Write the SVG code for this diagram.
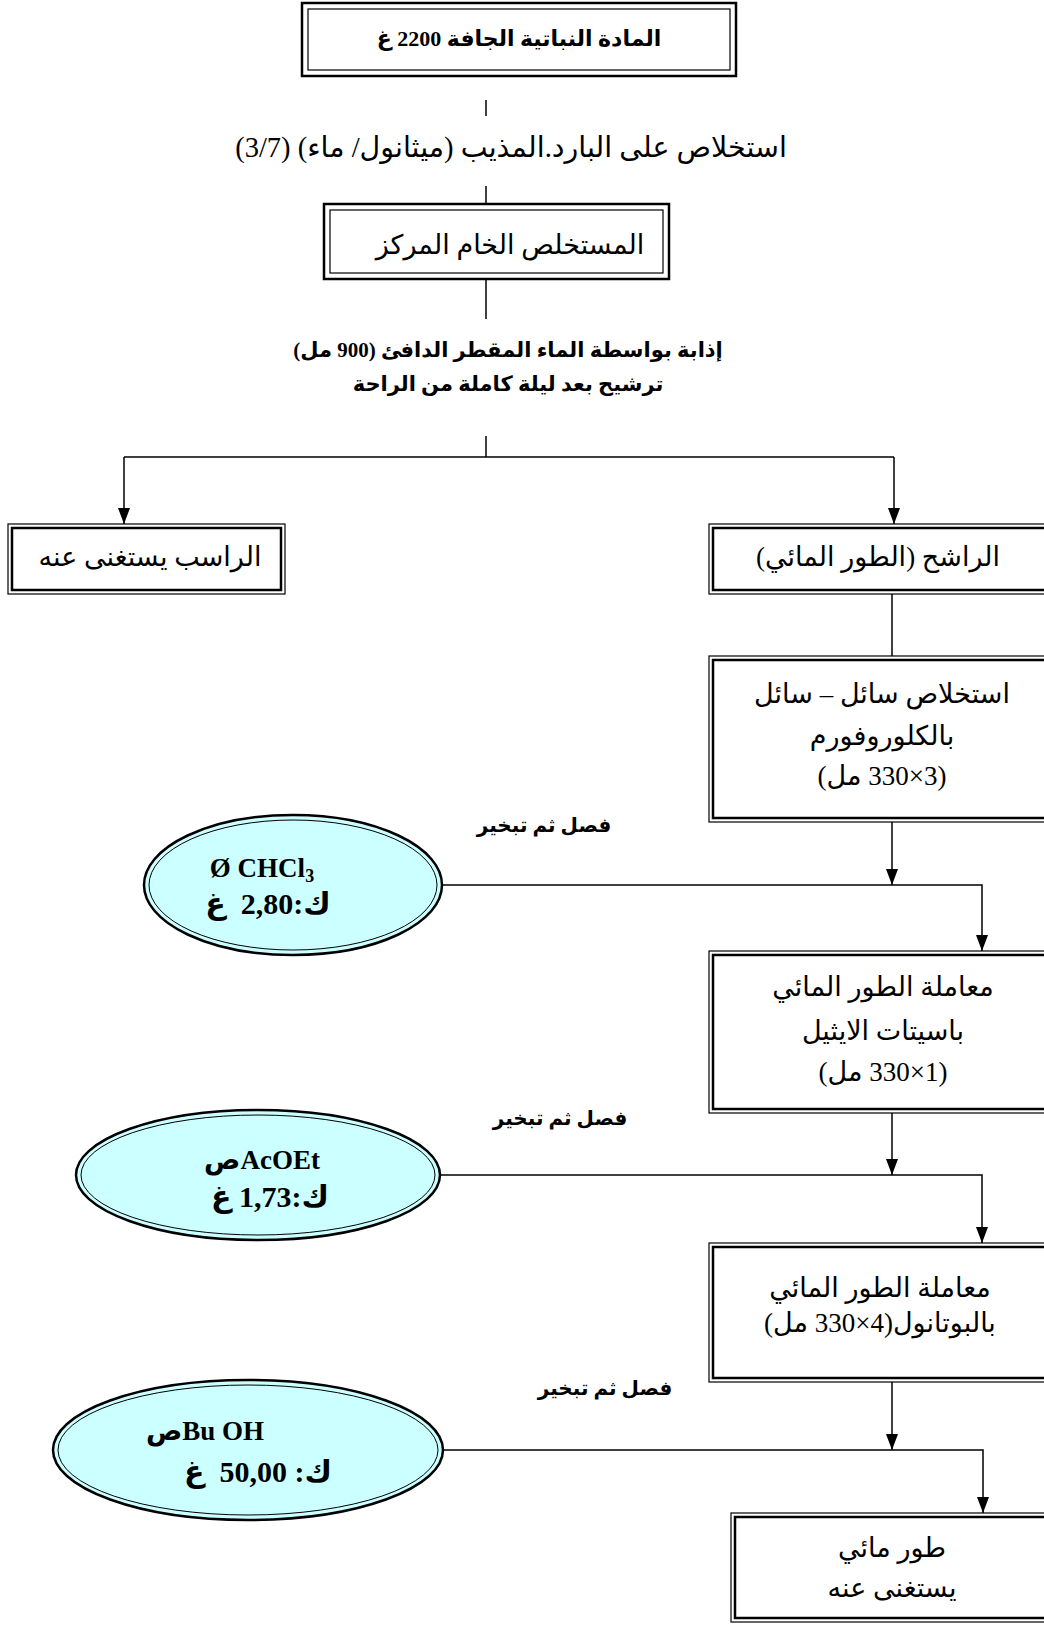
<svg xmlns="http://www.w3.org/2000/svg" width="1044" height="1625" viewBox="0 0 1044 1625">
<style>
.bg{fill:#fff}
.ot{fill:none;stroke:#000;stroke-width:2.5}
.it{fill:none;stroke:#000;stroke-width:1.2}
.on{fill:#fff;stroke:#000;stroke-width:1.2}
.in{fill:none;stroke:#000;stroke-width:2.5}
.eo{fill:#ccffff;stroke:#000;stroke-width:2.5}
.ei{fill:none;stroke:#000;stroke-width:1}
.ln{fill:none;stroke:#000;stroke-width:1.5}
.r{font-family:'Liberation Serif','DejaVu Sans',sans-serif;font-size:27px;fill:#000;text-anchor:middle}
.b{font-family:'Liberation Serif','DejaVu Sans',sans-serif;font-size:21px;font-weight:bold;fill:#000;text-anchor:middle}
.t{font-family:'Liberation Serif','DejaVu Sans',sans-serif;font-size:22px;font-weight:bold;fill:#000;text-anchor:middle}
.s{font-family:'Liberation Serif','DejaVu Sans',sans-serif;font-size:20px;font-weight:bold;fill:#000;text-anchor:middle}
.e{font-family:'Liberation Serif','DejaVu Sans',serif;font-size:27px;font-weight:bold;fill:#000;text-anchor:middle}
.k{font-family:'Liberation Serif','DejaVu Sans',serif;font-size:30px;font-weight:bold;fill:#000;text-anchor:middle;white-space:pre}
</style>
<defs>
<marker id="ah" markerUnits="userSpaceOnUse" markerWidth="16" markerHeight="12" viewBox="0 0 16 12" refX="16" refY="6" orient="auto">
<path d="M0,0 L16,6 L0,12 Z" fill="#000"/>
</marker>
</defs>
<rect class="bg" width="1044" height="1625"/>
<g id="connectors">
<line class="ln" x1="486" y1="100" x2="486" y2="116"/>
<line class="ln" x1="486" y1="186" x2="486" y2="204"/>
<line class="ln" x1="486" y1="279" x2="486" y2="319"/>
<line class="ln" x1="486" y1="436" x2="486" y2="457"/>
<line class="ln" x1="124" y1="457" x2="894" y2="457"/>
<line class="ln" x1="124" y1="457" x2="124" y2="524" marker-end="url(#ah)"/>
<line class="ln" x1="894" y1="457" x2="894" y2="524" marker-end="url(#ah)"/>
<line class="ln" x1="892" y1="594" x2="892" y2="656"/>
<line class="ln" x1="892" y1="822" x2="892" y2="885" marker-end="url(#ah)"/>
<polyline class="ln" points="443,885 982,885 982,951" marker-end="url(#ah)"/>
<line class="ln" x1="892" y1="1113" x2="892" y2="1175" marker-end="url(#ah)"/>
<polyline class="ln" points="440,1175 982,1175 982,1243" marker-end="url(#ah)"/>
<line class="ln" x1="892" y1="1382" x2="892" y2="1450" marker-end="url(#ah)"/>
<polyline class="ln" points="443,1450 983,1450 983,1513" marker-end="url(#ah)"/>
</g>
<g id="n-plant">
<rect class="ot" x="302" y="3" width="434" height="73"/>
<rect class="it" x="308" y="9" width="422" height="61"/>
<text class="t" x="519" y="46" direction="rtl">المادة النباتية الجافة 2200 غ</text>
</g>
<g id="l-extract">
<text class="r" x="511" y="157" direction="rtl" style="font-size:28.5px">استخلاص على البارد.المذيب (ميثانول/ ماء) (3/7)</text>
</g>
<g id="n-crude">
<rect class="ot" x="324" y="204" width="345" height="75"/>
<rect class="it" x="330" y="210" width="333" height="63"/>
<text class="r" x="510" y="254" direction="rtl">المستخلص الخام المركز</text>
</g>
<g id="l-dissolve">
<text class="b" x="508" y="357" direction="rtl">إذابة بواسطة الماء المقطر الدافئ (900 مل)</text>
<text class="b" x="508" y="391" direction="rtl">ترشيح بعد ليلة كاملة من الراحة</text>
</g>
<g id="n-precip">
<rect class="on" x="8" y="524" width="277" height="70"/>
<rect class="in" x="12" y="528" width="269" height="62"/>
<text class="r" x="150" y="566" direction="rtl">الراسب يستغنى عنه</text>
</g>
<g id="n-filtrate">
<rect class="on" x="709" y="524" width="345" height="70"/>
<rect class="in" x="713" y="528" width="337" height="62"/>
<text class="r" x="878" y="566" direction="rtl">الراشح (الطور المائي)</text>
</g>
<g id="n-chcl3ext">
<rect class="on" x="709" y="656" width="345" height="166"/>
<rect class="in" x="713" y="660" width="337" height="158"/>
<text class="r" x="882" y="703" direction="rtl">استخلاص سائل – سائل</text>
<text class="r" x="882" y="745" direction="rtl">بالكلوروفورم</text>
<text class="r" x="882" y="785" direction="rtl">(3×330 مل)</text>
</g>
<g id="l-sep1"><text class="s" x="544" y="832" direction="rtl">فصل ثم تبخير</text></g>
<g id="n-chcl3">
<ellipse class="eo" cx="293" cy="885" rx="149" ry="70"/>
<ellipse class="ei" cx="293" cy="885" rx="144" ry="65"/>
<text class="e" x="262" y="877">Ø CHCl<tspan font-size="18" dy="5">3</tspan></text>
<text class="k" x="268" y="914" direction="rtl" xml:space="preserve">ك:2,80  غ</text>
</g>
<g id="n-acoetext">
<rect class="on" x="709" y="951" width="345" height="162"/>
<rect class="in" x="713" y="955" width="337" height="154"/>
<text class="r" x="883" y="996" direction="rtl">معاملة الطور المائي</text>
<text class="r" x="883" y="1040" direction="rtl">باسيتات الايثيل</text>
<text class="r" x="883" y="1081" direction="rtl">(1×330 مل)</text>
</g>
<g id="l-sep2"><text class="s" x="560" y="1125" direction="rtl">فصل ثم تبخير</text></g>
<g id="n-acoet">
<ellipse class="eo" cx="258" cy="1175" rx="182" ry="65"/>
<ellipse class="ei" cx="258" cy="1175" rx="177" ry="60"/>
<text class="e" x="262" y="1169" direction="ltr">صAcOEt</text>
<text class="k" x="270" y="1207" direction="rtl">ك:1,73 غ</text>
</g>
<g id="n-buohext">
<rect class="on" x="709" y="1243" width="345" height="139"/>
<rect class="in" x="713" y="1247" width="337" height="131"/>
<text class="r" x="880" y="1297" direction="rtl">معاملة الطور المائي</text>
<text class="r" x="880" y="1332" direction="rtl">بالبوتانول(4×330 مل)</text>
</g>
<g id="l-sep3"><text class="s" x="605" y="1395" direction="rtl">فصل ثم تبخير</text></g>
<g id="n-buoh">
<ellipse class="eo" cx="248" cy="1450" rx="195" ry="70"/>
<ellipse class="ei" cx="248" cy="1450" rx="190" ry="65"/>
<text class="e" x="205" y="1440" direction="ltr">صBu OH</text>
<text class="k" x="258" y="1482" direction="rtl" xml:space="preserve">ك: 50,00  غ</text>
</g>
<g id="n-aqueous">
<rect class="on" x="731" y="1513" width="330" height="109"/>
<rect class="in" x="735" y="1517" width="322" height="101"/>
<text class="r" x="892" y="1557" direction="rtl">طور مائي</text>
<text class="r" x="892" y="1597" direction="rtl">يستغنى عنه</text>
</g>
</svg>
